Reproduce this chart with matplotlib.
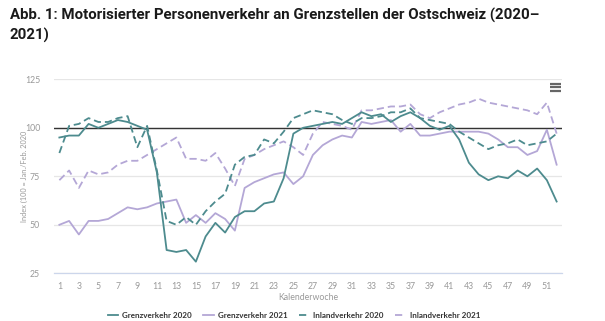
import matplotlib
matplotlib.use("Agg")
import matplotlib.pyplot as plt
from matplotlib.lines import Line2D

# Kalenderwochen 1..52, Index (100 = Jan./Feb. 2020)
weeks = list(range(1, 53))

grenz_2020 = [95, 96, 96, 102, 100, 102, 104, 103, 101, 99,
              77, 37, 36, 37, 31, 44, 51, 46, 54, 57,
              57, 61, 62, 74, 97, 100, 101, 102, 103, 102,
              105, 108, 106, 107, 103, 106, 108, 105, 101, 99,
              101, 94, 82, 76, 73, 75, 74, 78, 75, 79,
              73, 62]
grenz_2021 = [50, 52, 45, 52, 52, 53, 56, 59, 58, 59,
              61, 62, 63, 51, 55, 51, 56, 53, 47, 69,
              72, 74, 76, 77, 71, 75, 86, 91, 94, 96,
              95, 103, 102, 103, 104, 98, 102, 96, 96, 97,
              98, 98, 98, 98, 97, 94, 90, 90, 86, 88,
              99, 81]
inland_2020 = [87, 101, 102, 105, 103, 103, 105, 106, 90, 101,
               78, 52, 50, 54, 50, 57, 62, 66, 81, 85,
               86, 94, 92, 98, 105, 107, 109, 108, 107, 104,
               102, 105, 105, 106, 108, 108, 110, 105, 104, 103,
               102, 98, 95, 92, 89, 91, 92, 94, 91, 92,
               93, 97]
inland_2021 = [73, 78, 69, 78, 76, 77, 81, 83, 83, 86,
               89, 92, 95, 84, 84, 83, 87, 79, 70, 84,
               86, 89, 91, 93, 90, 86, 97, 103, 102, 101,
               99, 109, 109, 110, 111, 111, 112, 107, 105, 108,
               110, 112, 113, 115, 113, 112, 111, 110, 109, 107,
               113, 97]

labels = ["Grenzverkehr 2020", "Grenzverkehr 2021",
          "Inlandverkehr 2020", "Inlandverkehr 2021"]
yticks = [25, 50, 75, 100, 125]
xticks = list(range(1, 52, 2))

TEAL = "#4d8b8e"
LAV = "#b4a7d6"
GREY = "#999999"

W, H = 605, 321
fig = plt.figure(figsize=(W / 100, H / 100), dpi=100)
fig.patch.set_facecolor("white")

ax = fig.add_axes([54 / W, 1 - 273.3 / H, (562 - 54) / W, (273.3 - 79.3) / H])

lw = 1.3
dash = (4, 2.2)
ax.plot(weeks, grenz_2020, color=TEAL, lw=lw, label=labels[0], zorder=4)
ax.plot(weeks, grenz_2021, color=LAV, lw=lw, label=labels[1], zorder=3)
ax.plot(weeks, inland_2020, color=TEAL, lw=lw, ls=(0, dash), label=labels[2], zorder=4)
ax.plot(weeks, inland_2021, color=LAV, lw=lw, ls=(0, dash), label=labels[3], zorder=3)

ax.axhline(100, color="#333333", lw=1.0, zorder=2)

ax.set_xlim(0.45, 52.55)
ax.set_ylim(25, 125)
ax.set_yticks(yticks)
ax.set_xticks(xticks)
ax.grid(axis="y", color="#e6e6e6", lw=0.9, zorder=0)
for s in ["top", "right", "left"]:
    ax.spines[s].set_visible(False)
ax.spines["bottom"].set_color("#ccd6eb")
ax.spines["bottom"].set_linewidth(0.9)
ax.tick_params(axis="both", length=0, colors=GREY, labelsize=6.3)
ax.tick_params(axis="y", pad=10)
ax.tick_params(axis="x", pad=6)
for t in ax.get_xticklabels() + ax.get_yticklabels():
    t.set_fontfamily("Lato")

ax.set_xlabel("Kalenderwoche", color=GREY, fontsize=6.3, family="Lato", labelpad=2)
ax.set_ylabel("Index (100 = Jan./Feb. 2020", color=GREY, fontsize=5.3,
              family="Lato", labelpad=-2)

# title
fig.text(10 / W, 1 - 8 / H, "Abb. 1: Motorisierter Personenverkehr an Grenzstellen der Ostschweiz (2020–\n2021)",
         ha="left", va="top", fontsize=10.8, fontweight="bold", color="#1a1a1a",
         family=["Liberation Sans Narrow", "Roboto", "DejaVu Sans"], linespacing=1.45)

# menu icon
for yy in (83.5, 87, 90.5):
    fig.add_artist(Line2D([550 / W, 561 / W], [1 - yy / H, 1 - yy / H],
                          color="#666666", lw=1.6, solid_capstyle="butt"))

leg = fig.legend(loc="center", bbox_to_anchor=(294 / W, 1 - 315 / H), ncol=4,
                 frameon=False, handlelength=1.3, handletextpad=0.5,
                 columnspacing=1.4, prop={"family": "Lato", "weight": "bold", "size": 5.8})
for t in leg.get_texts():
    t.set_color("#333333")

fig.savefig("out.png", dpi=100)
